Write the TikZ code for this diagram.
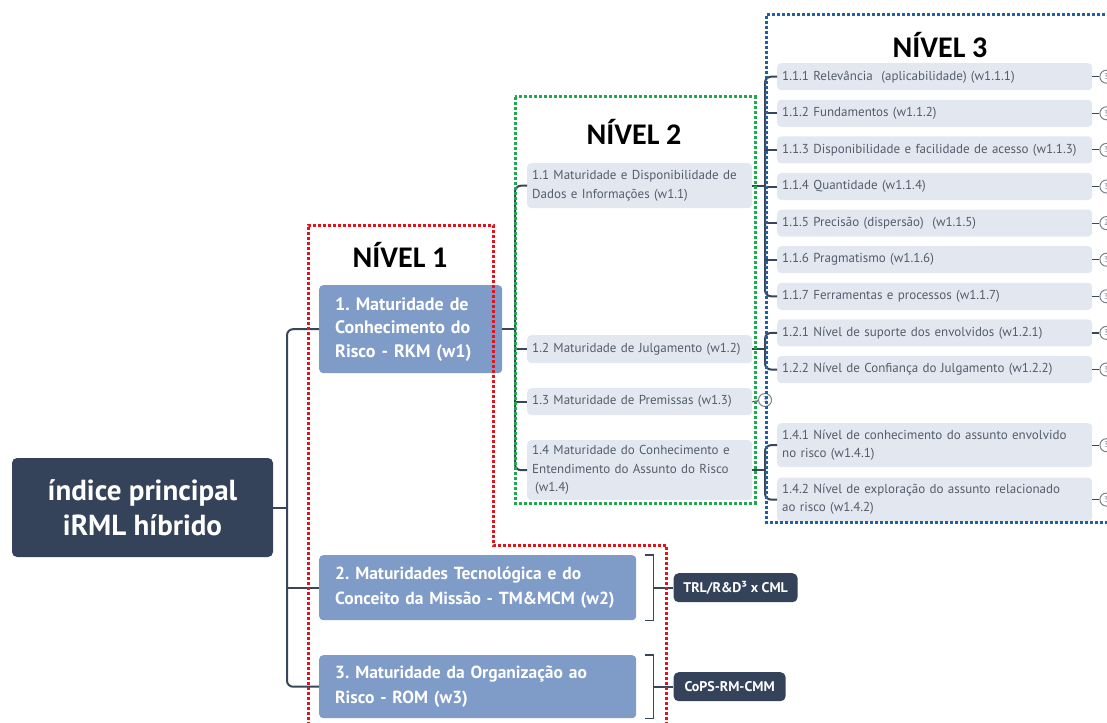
\documentclass[tikz,border=0pt]{standalone}
\usepackage{fontspec}
\setmainfont{PT Sans}
\newfontfamily\titlefont{Carlito}
\usetikzlibrary{positioning}
\definecolor{rootc}{HTML}{34425A}
\definecolor{lvone}{HTML}{7F9BC8}
\definecolor{lvbg}{HTML}{E3E8F0}
\definecolor{txtgray}{HTML}{545D6C}
\definecolor{linec}{HTML}{39465A}
\definecolor{redframe}{HTML}{E3121B}
\definecolor{greenframe}{HTML}{1FA84F}
\definecolor{blueframe}{HTML}{1F5FAA}
\definecolor{badgec}{HTML}{7A7F88}
\frenchspacing

\begin{document}
\begin{tikzpicture}[x=1pt, y=-1pt,
  node distance=9.2pt,
  rootbox/.style={fill=rootc, text=white, rounded corners=5pt, align=center, minimum width=261pt, minimum height=99pt, font=\fontsize{29}{35}\selectfont\bfseries},
  mainbox/.style={anchor=north west, fill=lvone, text=white, rounded corners=4pt, align=left, inner xsep=16pt, font=\fontsize{18}{23.5}\selectfont\bfseries},
  widebox/.style={mainbox, text width=285pt, font=\fontsize{17.5}{24.5}\selectfont\bfseries},
  subbox/.style={anchor=north west, fill=lvbg, text=txtgray, rounded corners=4pt, align=left, inner xsep=5pt, text width=215pt, font=\fontsize{13}{18.5}\selectfont},
  leafbox/.style={fill=lvbg, text=txtgray, rounded corners=4pt, align=left, inner xsep=5pt, text width=305pt, minimum height=27pt, font=\fontsize{13}{18}\selectfont},
  tagbox/.style={fill=rootc, text=white, rounded corners=5pt, minimum height=29pt, font=\fontsize{14}{16}\selectfont\bfseries},
  title/.style={font=\titlefont\fontsize{30}{33}\selectfont\bfseries},
  badge/.style={circle, draw=badgec, fill=white, line width=1pt, minimum size=13pt, inner sep=0pt, text=badgec, font=\fontsize{8}{8}\selectfont},
  conn/.style={draw=linec, line width=2pt, rounded corners=6pt},
  brk/.style={draw=linec, line width=1.6pt},
  tick/.style={draw=linec, line width=1.2pt},
  redfr/.style={draw=redframe, line width=3pt, dash pattern=on 3pt off 2pt},
  greenfr/.style={draw=greenframe, line width=3pt, dash pattern=on 3pt off 2pt},
  bluefr/.style={draw=blueframe, line width=3pt, dash pattern=on 3pt off 2pt}
]
\useasboundingbox (0,0) rectangle (1107,722);
\clip (0,0) rectangle (1107,722);

% spines
\coordinate (s0) at (287,0);
\coordinate (s1) at (515,0);
\coordinate (s2) at (765,0);

% root and level 1
\node[rootbox] (root) at (142.5,507.5) {índice principal\\iRML híbrido};
\node[mainbox, text width=151pt, minimum height=88pt] (b1) at (319,285) {1. Maturidade de\\Conhecimento do\\Risco - RKM (w1)};
\node[widebox, minimum height=65pt] (b2) at (319,555) {2. Maturidades Tecnológica e do\\Conceito da Missão - TM\&MCM (w2)};
\node[widebox, minimum height=63pt] (b3) at (319,655) {3. Maturidade da Organização ao\\Risco - ROM (w3)};
\node[tagbox, minimum width=124pt, right=37pt of b2] (tag2) {TRL/R\&D³ x CML};
\node[tagbox, minimum width=112pt, right=37pt of b3] (tag3) {CoPS-RM-CMM};

% level 2
\node[subbox, minimum height=45pt] (l11) at (527,163) {1.1 Maturidade e Disponibilidade de\\Dados e Informações (w1.1)};
\node[subbox, minimum height=28pt] (l12) at (527,335) {1.2 Maturidade de Julgamento (w1.2)};
\node[subbox, minimum height=27pt] (l13) at (527,388) {1.3 Maturidade de Premissas (w1.3)};
\node[subbox, minimum height=60pt] (l14) at (527,440) {1.4 Maturidade do Conhecimento e\\Entendimento do Assunto do Risco\\\hspace{3pt}(w1.4)};

% level 3
\node[leafbox, anchor=north west] (l111) at (777,63) {1.1.1 Relevância \ (aplicabilidade) (w1.1.1)};
\node[leafbox, below=of l111] (l112) {1.1.2 Fundamentos (w1.1.2)};
\node[leafbox, below=of l112] (l113) {1.1.3 Disponibilidade e facilidade de acesso (w1.1.3)};
\node[leafbox, below=of l113] (l114) {1.1.4 Quantidade (w1.1.4)};
\node[leafbox, below=of l114] (l115) {1.1.5 Precisão (dispersão) \ (w1.1.5)};
\node[leafbox, below=of l115] (l116) {1.1.6 Pragmatismo (w1.1.6)};
\node[leafbox, below=of l116] (l117) {1.1.7 Ferramentas e processos (w1.1.7)};
\node[leafbox, below=of l117] (l121) {1.2.1 Nível de suporte dos envolvidos (w1.2.1)};
\node[leafbox, below=of l121] (l122) {1.2.2 Nível de Confiança do Julgamento (w1.2.2)};
\node[leafbox, anchor=north west, minimum height=44pt] (l141) at (777,423) {1.4.1 Nível de conhecimento do assunto envolvido\\no risco (w1.4.1)};
\node[leafbox, below=10pt of l141, minimum height=44pt] (l142) {1.4.2 Nível de exploração do assunto relacionado\\ao risco (w1.4.2)};

% connectors level 1
\draw[conn] (root.east) -- (root.east -| s0);
\draw[conn] (b1.west) -| (s0 |- b3.west) -- (b3.west);
\draw[conn] (b2.west) -- (b2.west -| s0);

% connectors level 2
\draw[conn] (b1.east) -- (b1.east -| s1);
\draw[conn] (l11.west) -| (s1 |- l14.west) -- (l14.west);
\draw[conn] (l12.west) -- (l12.west -| s1);
\draw[conn] (l13.west) -- (l13.west -| s1);

% connectors level 3
\draw[conn] (l11.east) -- (l11.east -| s2);
\draw[conn] (l111.west) -| (s2 |- l117.west) -- (l117.west);
\foreach \n in {l112,l113,l114,l115,l116}
  \draw[conn] (\n.west) -- (\n.west -| s2);
\draw[conn] (l12.east) -- (l12.east -| s2);
\draw[conn] (l121.west) -| (s2 |- l122.west) -- (l122.west);
\draw[conn] (l14.east) -- (l14.east -| s2);
\draw[conn] (l141.west) -| (s2 |- l142.west) -- (l142.west);

% collapsed badges
\node[badge] (c13) at (765,400) {3};
\draw[tick] (l13.east) -- (c13);
\foreach \n/\k in {l111/3,l112/3,l113/3,l114/3,l115/2,l116/3,l117/3,l121/3,l122/3,l141/3,l142/3} {
  \node[badge, right=7pt of \n] (c\n) {\k};
  \draw[tick] (\n) -- (c\n);
}

% brackets to the tags
\draw[brk] ([xshift=9pt]b2.north east) -- ++(8pt,0) -- ([xshift=17pt]b2.south east) -- ++(-8pt,0);
\draw[brk] ([xshift=17pt]b2.east) -- (tag2.west);
\draw[brk] ([xshift=9pt]b3.north east) -- ++(8pt,0) -- ([xshift=17pt]b3.south east) -- ++(-8pt,0);
\draw[brk] ([xshift=17pt]b3.east) -- (tag3.west);

% level frames and titles
\draw[redfr] (308,730) -- (308,225) -- (493,225) -- (493,545) -- (666,545) -- (666,730);
\draw[greenfr] (515,97) rectangle (755,503);
\draw[bluefr] (1115,15) -- (766,15) -- (766,522) -- (1115,522);
\node[title] (t1) at (400,255) {NÍVEL 1};
\node[title] (t2) at (634,132) {NÍVEL 2};
\node[title] (t3) at (940,45) {NÍVEL 3};
\end{tikzpicture}
\end{document}
